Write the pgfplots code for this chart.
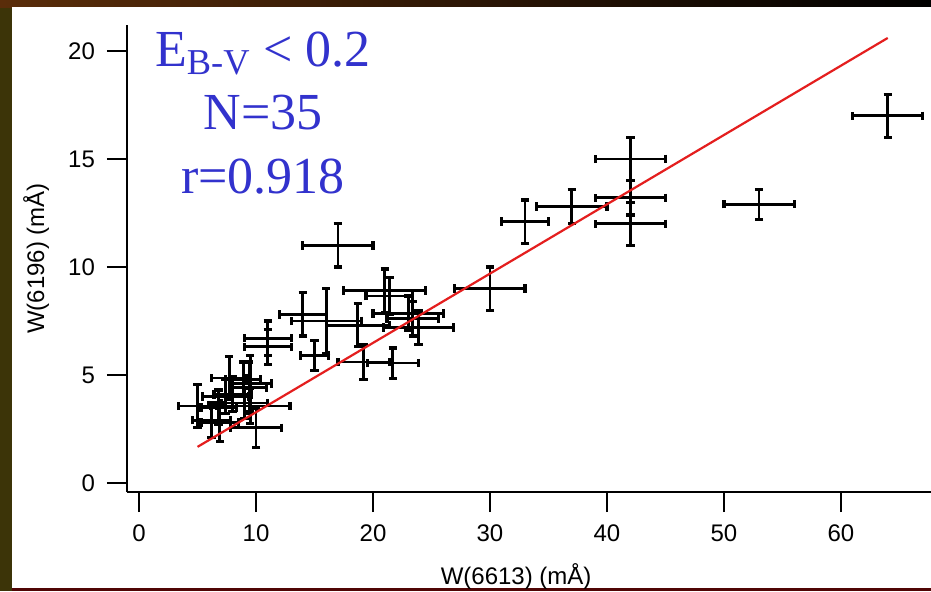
\documentclass[border=0pt]{standalone}
\usepackage{pgfplots}
\pgfplotsset{compat=1.18}
\usepackage{pgfplotstable}
\usepackage{fontspec}
\setmainfont{Liberation Sans}
\newfontfamily\timesf{Liberation Serif}
\definecolor{txtblue}{RGB}{50,50,205}
\definecolor{fitred}{RGB}{228,30,30}
\definecolor{olivebg}{RGB}{60,52,8}
\definecolor{redbg}{RGB}{80,5,5}
\definecolor{topleft}{RGB}{90,45,10}
\definecolor{topmid}{RGB}{85,0,0}

\pgfplotstableread{
x y ex ey
64 17 3 1
53 12.9 3 0.7
42 15 3 1
42 13.2 3 0.8
42 12 3 1
37 12.8 3 0.8
33 12.1 2 1
30 9 3 1
17 11 3 1
14 7.8 2 1
16 7.5 3 1.5
15 5.9 1.2 0.7
18.7 7.3 2.7 1
21 8.9 3.5 1
21.4 8.65 2 0.85
23 7.85 3 0.8
23.4 7.6 2.2 0.8
23.9 7.2 3 0.8
19.2 5.6 2.2 0.8
21.7 5.55 2.2 0.7
11 6.7 2 0.8
11 6.3 2 0.8
7.7 4.86 1.5 1
8.9 4.8 1.5 0.8
9.5 4.6 1.8 1.3
5 3.56 1.6 1
9.5 3.56 3.4 0.8
7.4 4.0 2 0.8
6.2 2.9 1.6 0.8
6.9 2.8 1.6 0.9
10 2.55 2.2 0.9
8.0 4.1 1.6 0.8
9.4 4.4 1.5 1.2
6.8 3.5 1.5 0.8
9.0 3.7 2.0 0.7
}\datatab

\begin{document}
\begin{tikzpicture}[x=1pt,y=1pt]
\fill[olivebg] (-63.5,-49.5) rectangle (402,246);
\shade[left color=topleft, middle color=topmid, right color=black] (-63.5,242.5) rectangle (402,246);
\fill[redbg] (-57.5,-49.5) rectangle (402,-48);
\fill[white] (-57.5,-48) rectangle (402,242.5);
\begin{axis}[
  at={(0,0)}, anchor=south west, scale only axis,
  width=402pt, height=233.5pt,
  xmin=-1.03, xmax=67.7, ymin=-0.42, ymax=21.2,
  axis lines*=left,
  axis line style={line width=1pt, black},
  tick align=outside,
  major tick length=10pt,
  tick style={black, line width=1pt},
  xtick={0,10,20,30,40,50,60},
  ytick={0,5,10,15,20},
  minor tick num=0,
  clip=false,
  /pgf/number format/assume math mode=true,
  tick label style={font=\fontsize{12}{14}\selectfont},
  xticklabel style={yshift=-3pt},
  yticklabel style={xshift=-2.5pt},
  xlabel={W(6613) (mÅ)},
  ylabel={W(6196) (mÅ)},
  every axis x label/.style={at={(axis description cs:0.484,-0.18)}, anchor=center, font=\fontsize{12}{14}\selectfont},
  every axis y label/.style={at={(axis description cs:-0.113,0.5)}, rotate=90, anchor=center, font=\fontsize{12}{14}\selectfont},
]
\addplot[draw=none, mark=none,
  error bars/.cd, x dir=both, x explicit, y dir=both, y explicit,
  error bar style={draw=black, line width=1.4pt, solid},
  error mark options={draw=black, rotate=90, line width=1.6pt, mark size=2.1pt}]
  table[x=x, y=y, x error=ex, y error=ey]{\datatab};
\addplot[fitred, line width=1.1pt] coordinates {(5,1.67) (64,20.6)};
\node[txtblue, anchor=base, font=\timesf\fontsize{26}{31}\selectfont] at (axis cs:10.6,19.26) {E\textsubscript{B-V} < 0.2};
\node[txtblue, anchor=base, font=\timesf\fontsize{26}{31}\selectfont] at (axis cs:10.6,16.34) {N=35};
\node[txtblue, anchor=base, font=\timesf\fontsize{26}{31}\selectfont] at (axis cs:10.6,13.38) {r=0.918};
\end{axis}
\pgfresetboundingbox
\useasboundingbox (-63.5,-49.5) rectangle (402,246);
\end{tikzpicture}
\end{document}
